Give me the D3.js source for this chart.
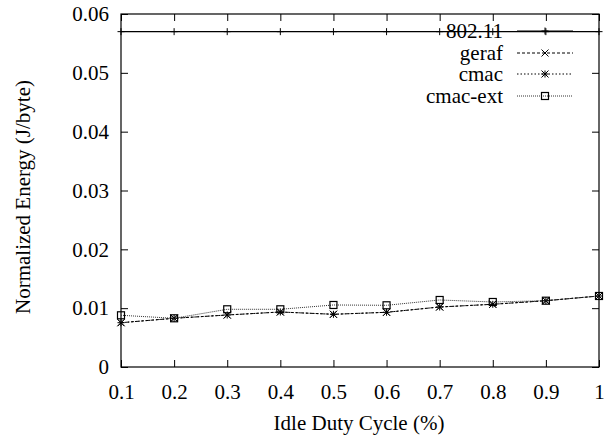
<!DOCTYPE html>
<html>
<head>
<meta charset="utf-8">
<script src="https://cdn.jsdelivr.net/npm/d3@7/dist/d3.min.js"></script>
</head>
<body style="margin:0; background:#fff">
<svg id="chart" width="606" height="435" font-family="Liberation Serif"></svg>
<script>
// Idle duty cycle values (x axis)
const dutyCycle = [0.1, 0.2, 0.3, 0.4, 0.5, 0.6, 0.7, 0.8, 0.9, 1.0];

// Normalized energy per protocol (J/byte)
const energy80211 = [0.0570, 0.0570, 0.0570, 0.0570, 0.0570, 0.0570, 0.0570, 0.0570, 0.0570, 0.0570];
const energyGeraf = [0.00753, 0.00828, 0.00884, 0.00935, 0.00896, 0.00930, 0.01020, 0.01066, 0.01127, 0.01207];
const energyCmac = [0.00753, 0.00828, 0.00884, 0.00935, 0.00896, 0.00930, 0.01020, 0.01066, 0.01127, 0.01207];
const energyCmacExt = [0.00879, 0.00828, 0.00981, 0.00981, 0.01054, 0.01049, 0.01139, 0.01105, 0.01127, 0.01207];

const xTicks = [0.1, 0.2, 0.3, 0.4, 0.5, 0.6, 0.7, 0.8, 0.9, 1];
const yTicks = [0, 0.01, 0.02, 0.03, 0.04, 0.05, 0.06];

const seriesNames = ["802.11", "geraf", "cmac", "cmac-ext"];
const seriesValues = [energy80211, energyGeraf, energyCmac, energyCmacExt];
const seriesDash = [null, "3,2", "1.5,2", "1,1"];
const seriesMarker = ["plus", "cross", "star", "square"];
const seriesStroke = ["#000", "#000", "#000", "#333"];

const serifFont = "Liberation Serif";
const labelSize = 21;

const svg = d3.select("#chart");
const plotLeft = 121, plotRight = 599, plotTop = 14, plotBottom = 367;

const x = d3.scaleLinear().domain([0.1, 1]).range([plotLeft, plotRight]);
const y = d3.scaleLinear().domain([0, 0.06]).range([plotBottom, plotTop]);

svg.append("rect").attr("width", 606).attr("height", 435).attr("fill", "#fff");

// Frame with inward ticks on every side
const tickLen = 7;
const frame = svg.append("g");
frame.append("rect")
  .attr("x", plotLeft).attr("y", plotTop)
  .attr("width", plotRight - plotLeft).attr("height", plotBottom - plotTop)
  .attr("fill", "none").attr("stroke", "#000").attr("stroke-width", 1.2);

function drawTicks(axis, transform) {
  const sel = frame.append("g").attr("transform", transform).call(axis);
  sel.attr("font-family", serifFont).attr("font-size", labelSize);
  sel.select(".domain").remove();
  sel.selectAll(".tick line").attr("stroke", "#000").attr("stroke-width", 1);
  sel.selectAll(".tick text").attr("fill", "#000")
    .attr("font-family", serifFont).attr("font-size", labelSize);
}

drawTicks(d3.axisBottom(x).tickValues(xTicks).tickSize(-tickLen).tickPadding(17)
  .tickFormat(d => d === 1 ? "1" : d3.format(".1f")(d)), `translate(0,${plotBottom})`);
drawTicks(d3.axisTop(x).tickValues(xTicks).tickSize(-tickLen).tickFormat(""), `translate(0,${plotTop})`);
drawTicks(d3.axisLeft(y).tickValues(yTicks).tickSize(-tickLen).tickPadding(12)
  .tickFormat(d => d === 0 ? "0" : d3.format(".2f")(d)), `translate(${plotLeft},0)`);
drawTicks(d3.axisRight(y).tickValues(yTicks).tickSize(-tickLen).tickFormat(""), `translate(${plotRight},0)`);

// Axis titles
svg.append("text")
  .attr("x", (plotLeft + plotRight) / 2 - 1).attr("y", 423)
  .attr("text-anchor", "middle").attr("dominant-baseline", "central")
  .attr("font-family", serifFont).attr("font-size", labelSize)
  .text("Idle Duty Cycle (%)");

svg.append("text")
  .attr("transform", "translate(23,197) rotate(-90)")
  .attr("text-anchor", "middle").attr("dominant-baseline", "central")
  .attr("font-family", serifFont).attr("font-size", labelSize)
  .text("Normalized Energy (J/byte)");

// Point markers
function drawMarker(sel, type, cx, cy) {
  const s = 3.5;
  const m = sel.append("g").attr("transform", `translate(${cx},${cy})`)
    .attr("stroke", "#000").attr("stroke-width", 1).attr("fill", "none");
  if (type === "plus" || type === "star") {
    m.append("line").attr("x1", -s).attr("x2", s).attr("y1", 0).attr("y2", 0);
    m.append("line").attr("x1", 0).attr("x2", 0).attr("y1", -s).attr("y2", s);
  }
  if (type === "cross" || type === "star") {
    m.append("line").attr("x1", -s).attr("x2", s).attr("y1", -s).attr("y2", s);
    m.append("line").attr("x1", -s).attr("x2", s).attr("y1", s).attr("y2", -s);
  }
  if (type === "square") {
    m.append("rect").attr("x", -s).attr("y", -s).attr("width", 2 * s).attr("height", 2 * s)
      .attr("stroke-width", 1.2);
  }
}

const line = d3.line().x((d, i) => x(dutyCycle[i])).y(d => y(d));
const plot = svg.append("g");

seriesValues.forEach((vals, k) => {
  plot.append("path")
    .attr("d", line(vals))
    .attr("fill", "none")
    .attr("stroke", seriesStroke[k])
    .attr("stroke-width", k === 0 ? 1.2 : 1)
    .attr("stroke-dasharray", seriesDash[k]);
  vals.forEach((v, i) => drawMarker(plot, seriesMarker[k], x(dutyCycle[i]), y(v)));
});

// Legend
const legendTextX = 503, legendLineX1 = 517, legendLineX2 = 573;
const legendY = [31, 53, 74, 96];
const legend = svg.append("g");
seriesNames.forEach((name, k) => {
  legend.append("text")
    .attr("x", legendTextX).attr("y", legendY[k])
    .attr("text-anchor", "end").attr("dominant-baseline", "central")
    .attr("font-family", serifFont).attr("font-size", labelSize)
    .text(name);
  legend.append("line")
    .attr("x1", legendLineX1).attr("x2", legendLineX2)
    .attr("y1", legendY[k]).attr("y2", legendY[k])
    .attr("stroke", seriesStroke[k])
    .attr("stroke-width", k === 0 ? 1.2 : 1)
    .attr("stroke-dasharray", seriesDash[k]);
  drawMarker(legend, seriesMarker[k], (legendLineX1 + legendLineX2) / 2, legendY[k]);
});
</script>
</body>
</html>
